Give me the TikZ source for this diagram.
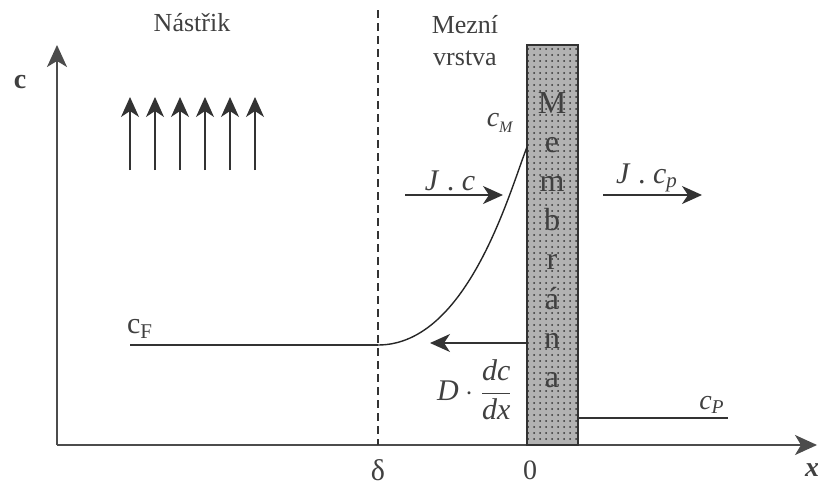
\documentclass[tikz,border=0pt]{standalone}
\usepackage{fontspec}
\setmainfont{Liberation Serif}
\usepackage{tikz}
\usetikzlibrary{arrows.meta,patterns}

\begin{document}
\begin{tikzpicture}[x=0.5pt, y=-0.5pt,
  every node/.style={font=\rmfamily\fontsize{13}{15}\selectfont, text=black!75, inner sep=1pt},
  axis/.style={-{Stealth[length=11pt, width=10pt, inset=3pt]}, line width=1pt, draw=black!70},
  arr/.style={-{Stealth[length=10pt, width=9pt, inset=3pt]}, line width=0.7pt, draw=black!80},
  membrane/.style={draw=black!80, line width=0.7pt, fill=black!30, postaction={pattern=dots, pattern color=black!80},
    minimum width=25.5pt, minimum height=200pt, inner sep=0pt},
  memtext/.style={align=center, font=\rmfamily\fontsize{16}{19.6}\selectfont, text=black!75}]
\useasboundingbox (0,0) rectangle (818,487);
% axes
\coordinate (o) at (57,445);
\coordinate (ytip) at (57,45);
\coordinate (xtip) at (817,445);
\draw[axis] (o) -- (ytip);
\draw[axis] (o) -- (xtip);
\node (clabel) at (20,82) {\fontsize{14}{16}\selectfont\textbf{c}};
\node (xlabel) at (812,470) {\fontsize{14}{16}\selectfont\textbf{\textit{x}}};
% boundary layer
\coordinate (dtop) at (378,10);
\coordinate (dbot) at (378,445);
\draw[dashed, dash pattern=on 4pt off 2.5pt, line width=0.6pt, draw=black!80] (dtop) -- (dbot);
\node (delta) at (378,470) {\fontsize{15}{17}\selectfont δ};
\node (zero) at (530,470) {\fontsize{14}{16}\selectfont 0};
\node (feed) at (192,23) {Nástřik};
\node[align=center, font=\rmfamily\fontsize{13}{16}\selectfont] (layer) at (465,41) {Mezní\\vrstva};
% membrane
\node[membrane] (mem) at (552.5,245) {};
\node[memtext] (memlbl) at (552,240) {M\\e\\m\\b\\r\\á\\n\\a};
% feed arrows
\foreach \i in {0,...,5} {
  \coordinate (f\i a) at (130+25*\i,170);
  \coordinate (f\i b) at (130+25*\i,97);
  \draw[arr] (f\i a) -- (f\i b);
}
% concentration profile
\coordinate (cfstart) at (130,345);
\coordinate (cfend) at (378,345);
\coordinate (cm) at (527,147);
\draw[line width=0.7pt, draw=black!80] (cfstart) -- (cfend);
\draw[line width=0.7pt, draw=black!85] (cfend) .. controls (468,345) and (510,190) .. (cm);
\node (cF) at (140,329) {\fontsize{15}{17}\selectfont c\textsubscript{F}};
\node (cM) at (500,123) {\fontsize{14}{16}\selectfont\textit{c}\raisebox{-3pt}{\fontsize{8}{9}\selectfont\textit{M}}};
\coordinate (cpstart) at (578,418);
\coordinate (cpend) at (728,418);
\draw[line width=0.7pt, draw=black!80] (cpstart) -- (cpend);
\node (cP) at (712,405) {\fontsize{14}{16}\selectfont\textit{c\textsubscript{P}}};
% fluxes
\coordinate (jcA) at (405,195);
\coordinate (jcB) at (503,195);
\draw[arr] (jcA) -- (jcB);
\node (jc) at (450,181) {\fontsize{15}{17}\selectfont\textit{J} . \textit{c}};
\coordinate (jpA) at (603,195);
\coordinate (jpB) at (702,195);
\draw[arr] (jpA) -- (jpB);
\node (jp) at (647,178) {\fontsize{15}{17}\selectfont\textit{J} . \textit{c\textsubscript{p}}};
\coordinate (dfA) at (527,343);
\coordinate (dfB) at (430,343);
\draw[arr] (dfA) -- (dfB);
\node (diff) at (475,390) {\fontsize{15}{17}\selectfont$\textit{D}\cdot\displaystyle\frac{\textit{dc}}{\textit{dx}}$};
\end{tikzpicture}
\end{document}
